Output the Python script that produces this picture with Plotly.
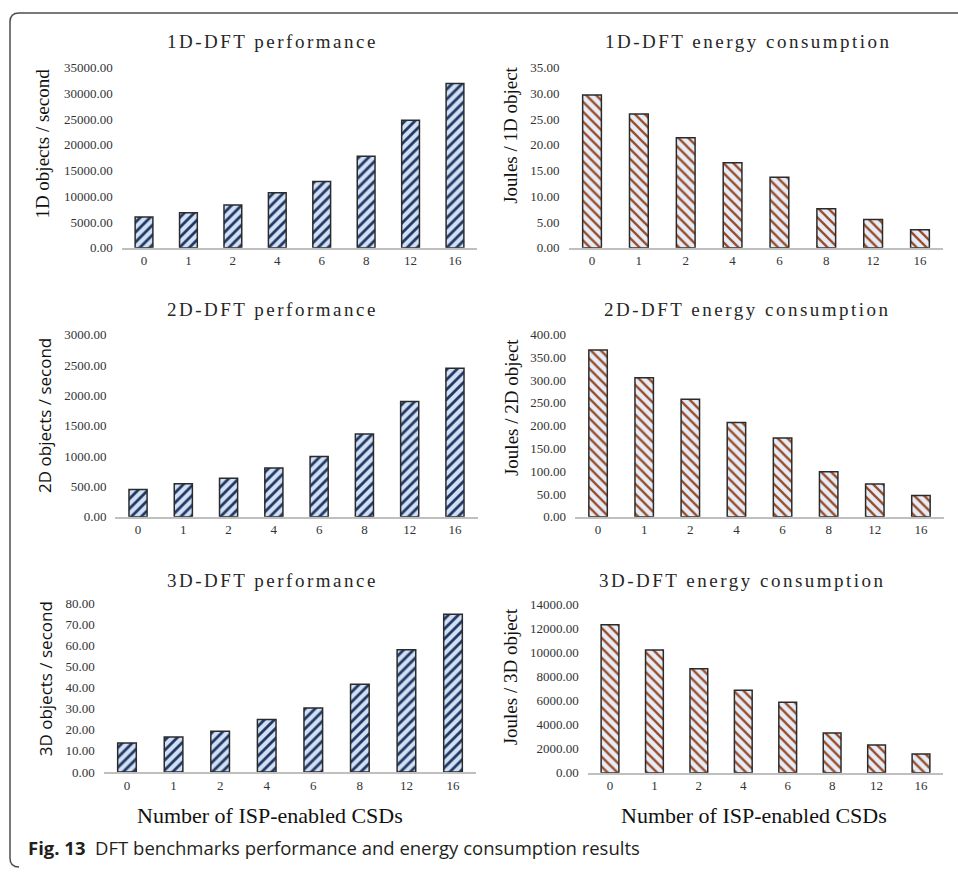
import plotly.graph_objects as go

# ---------------- data ----------------
csds = ["0", "1", "2", "4", "6", "8", "12", "16"]
perf_1d = [6000, 6800, 8300, 10700, 12900, 17800, 24800, 31900]
energy_1d = [29.7, 26.0, 21.4, 16.5, 13.7, 7.6, 5.5, 3.5]
perf_2d = [450, 545, 635, 805, 995, 1365, 1900, 2445]
energy_2d = [366, 305, 258, 207, 173, 99, 72, 47]
perf_3d = [13.7, 16.6, 19.3, 24.9, 30.3, 41.6, 58.0, 74.8]
energy_3d = [12300, 10200, 8650, 6850, 5850, 3300, 2300, 1550]

titles = ["1D-DFT performance", "1D-DFT energy consumption",
          "2D-DFT performance", "2D-DFT energy consumption",
          "3D-DFT performance", "3D-DFT energy consumption"]
ytitles = ["1D objects / second", "Joules / 1D object",
           "2D objects / second", "Joules / 2D object",
           "3D objects / second", "Joules / 3D object"]
xtitle = "Number of ISP-enabled CSDs"
caption_bold = "Fig. 13"
caption_text = "DFT benchmarks performance and energy consumption results"

series = [perf_1d, energy_1d, perf_2d, energy_2d, perf_3d, energy_3d]
yranges = [35000, 35, 3000, 400, 80, 14000]
ydticks = [5000, 5, 500, 50, 10, 2000]

W, H = 958, 876
def fx(px):
    return px / W
def fy(py):
    return 1 - py / H

# panel geometry in pixels: (x_left, x_right, y_zero, y_top)
geo = [
    (121.8, 477.2, 245.0, 61.7),
    (568.6, 943.4, 245.0, 61.7),
    (115.4, 477.6, 518.7, 333.3),
    (575.0, 944.0, 518.7, 333.3),
    (103.7, 476.3, 778.3, 606.7),
    (587.8, 943.2, 779.0, 607.7),
]
title_pos = [(272, 35), (748, 35), (272, 308), (747, 308), (272, 583), (742, 583)]
ytitle_pos = [(43, 139), (511, 130), (45, 416), (511, 407), (45, 684), (510, 681)]
ytitle_serif = [True, True, False, True, False, True]

SERIF = "Liberation Serif, Times New Roman, serif"
SANS = "Open Sans, Noto Sans, sans-serif"

fig = go.Figure()
layout = dict(
    width=W, height=H,
    margin=dict(l=0, r=0, t=0, b=0),
    paper_bgcolor="white", plot_bgcolor="rgba(0,0,0,0)",
    showlegend=False, bargap=0.6,
    annotations=[], shapes=[],
)

for i in range(6):
    n = i + 1
    xa = "x" if n == 1 else f"x{n}"
    ya = "y" if n == 1 else f"y{n}"
    perf = (i % 2 == 0)
    if perf:
        marker = dict(color="#cfdcf2",
                      line=dict(color="#2b2b2b", width=1.5),
                      pattern=dict(shape="/", fgcolor="#1f3864", bgcolor="#d3e0f4",
                                   size=7, solidity=0.4, fillmode="replace"))
    else:
        marker = dict(color="#e2eaf7",
                      line=dict(color="#2b2b2b", width=1.5),
                      pattern=dict(shape="\\", fgcolor="#9a4a24", bgcolor="#e6edf8",
                                   size=7, solidity=0.33, fillmode="replace"))
    fig.add_trace(go.Bar(x=csds, y=series[i], xaxis=xa, yaxis=ya, marker=marker,
                         hoverinfo="x+y"))
    xl, xr, y0, yt = geo[i]
    xkey = "xaxis" if n == 1 else f"xaxis{n}"
    ykey = "yaxis" if n == 1 else f"yaxis{n}"
    layout[xkey] = dict(
        domain=[fx(xl), fx(xr)], anchor=ya, type="category",
        range=[-0.5, 7.5], showline=True, linecolor="#bfbfbf", linewidth=2,
        showgrid=False, zeroline=False, ticks="",
        tickfont=dict(family=SERIF, size=13, color="#333333"),
        fixedrange=True,
    )
    layout[ykey] = dict(
        domain=[fy(y0), fy(yt)], anchor=xa, range=[0, yranges[i]],
        tick0=0, dtick=ydticks[i], tickformat=".2f",
        showline=False, showgrid=False, zeroline=False, ticks="",
        ticklabelstandoff=8,
        tickfont=dict(family=SERIF, size=13, color="#333333"),
        fixedrange=True,
    )
    tx, ty = title_pos[i]
    layout["annotations"].append(dict(
        x=fx(tx), y=fy(ty), xref="paper", yref="paper",
        xanchor="center", yanchor="middle", showarrow=False,
        text=f'<span style="letter-spacing:2.5px">{titles[i]}</span>',
        font=dict(family=SERIF, size=19, color="#262626"),
    ))
    ax_, ay_ = ytitle_pos[i]
    layout["annotations"].append(dict(
        x=fx(ax_), y=fy(ay_), xref="paper", yref="paper",
        xanchor="center", yanchor="middle", showarrow=False, textangle=-90,
        text=ytitles[i],
        font=dict(family=SERIF if ytitle_serif[i] else SANS,
                  size=19 if ytitle_serif[i] else 17, color="#111111"),
    ))

for cx in (270, 754):
    layout["annotations"].append(dict(
        x=fx(cx), y=fy(823), xref="paper", yref="paper",
        xanchor="center", yanchor="middle", showarrow=False,
        text=xtitle, font=dict(family=SERIF, size=22, color="#111111"),
    ))

layout["annotations"].append(dict(
    x=fx(26), y=fy(855), xref="paper", yref="paper",
    xanchor="left", yanchor="middle", showarrow=False,
    text=f"<b>{caption_bold}</b>  {caption_text}",
    font=dict(family=SANS, size=18.5, color="#231f20"),
))

# frame (rounded corner border, open on right)
path = (f"M {fx(958)},{fy(6)} L {fx(19)},{fy(6)} Q {fx(10)},{fy(6)} {fx(10)},{fy(15)} "
        f"L {fx(10)},{fy(866)} Q {fx(10)},{fy(875)} {fx(19)},{fy(875)}")
layout["shapes"].append(dict(type="path", xref="paper", yref="paper", path=path,
                             line=dict(color="#4d4d4d", width=1.5)))

fig.update_layout(**layout)
fig.write_html("out.html", config={"displayModeBar": False},
               post_script="document.body.style.margin='0';")
